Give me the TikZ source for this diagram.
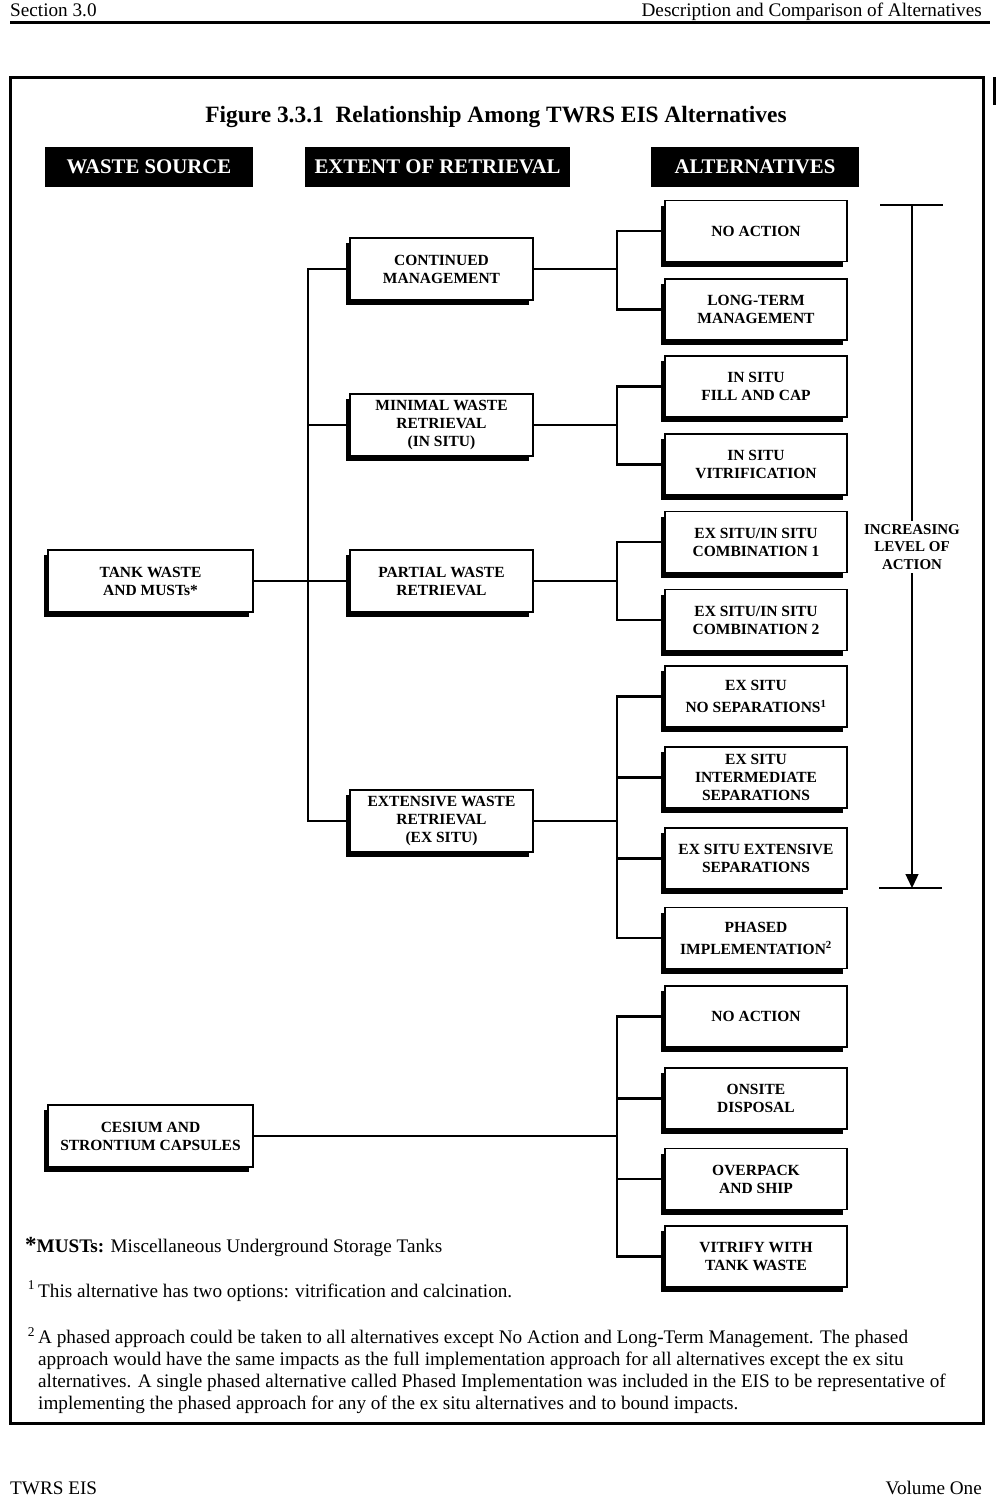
\documentclass[tikz,border=0pt]{standalone}
\usepackage{fontspec}
\setmainfont{Liberation Serif}
\usetikzlibrary{arrows.meta,positioning,shadows}

\begin{document}
\begin{tikzpicture}[
  x=1pt, y=-1pt,
  font=\fontsize{19.2}{22}\selectfont,
  box/.style     = {draw, line width=1.8pt, fill=white, align=center, inner sep=2pt,
                    font=\bfseries\fontsize{15.5}{18}\selectfont,
                    general shadow={fill=black, shadow xshift=-4.5pt, shadow yshift=-5pt}},
  srcbox/.style  = {box, minimum width=205pt, minimum height=62pt},
  extbox/.style  = {box, minimum width=183pt, minimum height=62pt},
  altbox/.style  = {box, minimum width=182pt, minimum height=61pt},
  headbar/.style = {fill=black, text=white, minimum height=40pt, minimum width=208pt,
                    font=\bfseries\fontsize{20.8}{22}\selectfont},
  ln/.style      = {line width=2.8pt},
  arrln/.style   = {line width=1.3pt},
  note/.style    = {anchor=base west, inner sep=0pt},
]
\useasboundingbox (0,0) rectangle (999,1500);

% --- page furniture ----------------------------------------------------------------------------
\node[note] (sect) at (10,16) {Section 3.0};
\node[note, anchor=base east] (chap) at (982,16) {Description and Comparison of Alternatives};
\draw[line width=3pt] (10,22) -- (990,22);
\draw[line width=3pt] (10,77) rectangle (983,1423);
\draw[line width=3pt] (994,77) -- (994,105);
\node[note] (foot) at (10,1494) {TWRS EIS};
\node[note, anchor=base east] (vol) at (982,1494) {Volume One};

% --- title and column heads --------------------------------------------------------------------
\node[font=\bfseries\fontsize{23.4}{25}\selectfont] (title) at (496,117)
  {Figure 3.3.1\enspace Relationship Among TWRS EIS Alternatives};
\node[headbar] (hsrc) at (149,167) {WASTE SOURCE};
\node[headbar, minimum width=265pt] (hext) at (437.5,167) {EXTENT OF RETRIEVAL};
\node[headbar] (halt) at (755,167) {ALTERNATIVES};

% --- waste sources -----------------------------------------------------------------------------
\node[srcbox] (tank) at (150.5,581)  {TANK WASTE\\AND MUSTs*};
\node[srcbox] (cssr) at (150.5,1136) {CESIUM AND\\STRONTIUM CAPSULES};

% --- extent of retrieval -----------------------------------------------------------------------
\node[extbox] (contd) at (441.5,269) {CONTINUED\\MANAGEMENT};
\node[extbox] (minim) at (441.5,425) {MINIMAL WASTE\\RETRIEVAL\\(IN SITU)};
\node[extbox] (partl) at (441.5,581) {PARTIAL WASTE\\RETRIEVAL};
\node[extbox] (extsv) at (441.5,821) {EXTENSIVE WASTE\\RETRIEVAL\\(EX SITU)};

% --- alternatives ------------------------------------------------------------------------------
\node[altbox] (noact) at (756,231)   {NO ACTION};
\node[altbox] (ltm)   at (756,309.5) {LONG-TERM\\MANAGEMENT};
\node[altbox] (fcap)  at (756,386.5) {IN SITU\\FILL AND CAP};
\node[altbox] (isvit) at (756,464.5) {IN SITU\\VITRIFICATION};
\node[altbox] (comb1) at (756,542)   {EX SITU/IN SITU\\COMBINATION 1};
\node[altbox] (comb2) at (756,620)   {EX SITU/IN SITU\\COMBINATION 2};
\node[altbox] (nosep) at (756,696.5) {EX SITU\\[4pt]NO SEPARATIONS\textsuperscript{1}};
\node[altbox] (insep) at (756,777.5) {EX SITU\\INTERMEDIATE\\SEPARATIONS};
\node[altbox] (exsep) at (756,858.5) {EX SITU EXTENSIVE\\SEPARATIONS};
\node[altbox] (phase) at (756,938)   {PHASED\\[4pt]IMPLEMENTATION\textsuperscript{2}};
\node[altbox] (cnoac) at (756,1016.5) {NO ACTION};
\node[altbox] (onsit) at (756,1098.5) {ONSITE\\DISPOSAL};
\node[altbox] (ovpk)  at (756,1179)   {OVERPACK\\AND SHIP};
\node[altbox] (vitw)  at (756,1256.5) {VITRIFY WITH\\TANK WASTE};

% --- tree connectors ---------------------------------------------------------------------------
\coordinate (trunk) at (308,581);
\coordinate (brk)   at (617,581);

\draw[ln] (tank.east) -- (partl.west);
\draw[ln] (contd.west) -| (trunk |- extsv.west) -- (extsv.west);
\draw[ln] (minim.west) -- (minim.west -| trunk);

\draw[ln] (contd.east) -- (contd.east -| brk);
\draw[ln] (noact.west) -| (brk |- ltm.west) -- (ltm.west);

\draw[ln] (minim.east) -- (minim.east -| brk);
\draw[ln] (fcap.west) -| (brk |- isvit.west) -- (isvit.west);

\draw[ln] (partl.east) -- (partl.east -| brk);
\draw[ln] (comb1.west) -| (brk |- comb2.west) -- (comb2.west);

\draw[ln] (extsv.east) -- (extsv.east -| brk);
\draw[ln] (nosep.west) -| (brk |- phase.west) -- (phase.west);
\foreach \n in {insep, exsep} \draw[ln] (\n.west) -- (\n.west -| brk);

\draw[ln] (cssr.east) -- (cssr.east -| brk);
\draw[ln] (cnoac.west) -| (brk |- vitw.west) -- (vitw.west);
\foreach \n in {onsit, ovpk} \draw[ln] (\n.west) -- (\n.west -| brk);

% --- increasing level of action ----------------------------------------------------------------
\coordinate (arrtop) at (912,205);
\coordinate (arrbot) at (912,888);
\draw[arrln] (880,205) -- (943,205);
\draw[arrln] (879,888) -- (942,888);
\draw[arrln, -{Triangle[length=14pt, width=13pt]}] (arrtop) -- (arrbot);
\node[fill=white, align=center, inner sep=3pt, font=\bfseries\fontsize{15}{17.5}\selectfont]
  (incr) at (912,547) {INCREASING\\LEVEL OF\\ACTION};

% --- notes -------------------------------------------------------------------------------------
\node[note] (nmust) at (25,1252)
  {{\bfseries\fontsize{23}{22}\selectfont *}\textbf{MUSTs:} Miscellaneous Underground Storage Tanks};
\node[note] (nopt) at (38,1297)
  {\llap{\textsuperscript{1}\,}This alternative has two options: vitrification and calcination.};
\node[note, anchor=north west, align=left] (nphs) at (38,1327)
  {\llap{\textsuperscript{2}\,}A phased approach could be taken to all alternatives except No Action and Long-Term Management. The phased\\
   approach would have the same impacts as the full implementation approach for all alternatives except the ex situ\\
   alternatives. A single phased alternative called Phased Implementation was included in the EIS to be representative of\\
   implementing the phased approach for any of the ex situ alternatives and to bound impacts.};

\end{tikzpicture}
\end{document}
